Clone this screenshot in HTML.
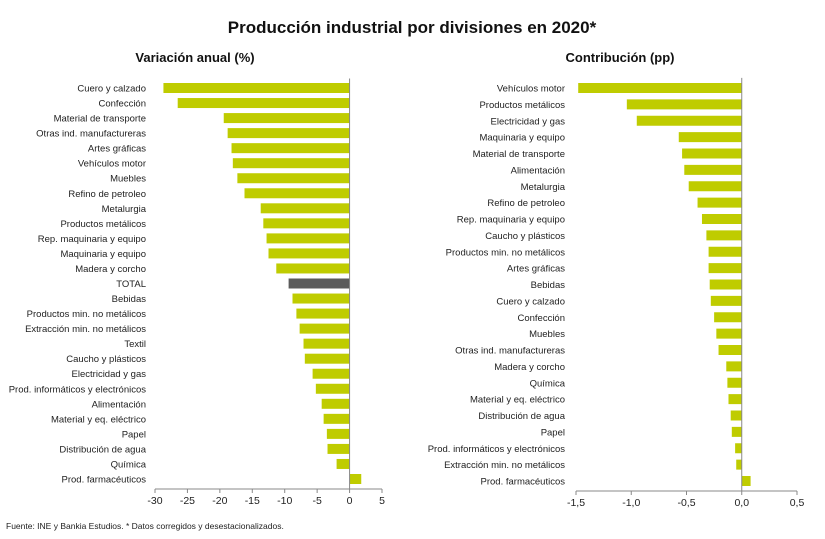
<!DOCTYPE html>
<html><head><meta charset="utf-8"><style>
body{margin:0;background:#fff;}
svg{display:block;font-family:"Liberation Sans",sans-serif;}
</style></head><body>
<svg id="c" width="825" height="539">
<text x="412" y="33" text-anchor="middle" font-size="17" font-weight="bold" fill="#111">Producción industrial por divisiones en 2020*</text>
<text x="195" y="62" text-anchor="middle" font-size="13" font-weight="bold" fill="#111">Variación anual (%)</text>
<text x="620" y="62" text-anchor="middle" font-size="13" font-weight="bold" fill="#111">Contribución (pp)</text>
<text x="6" y="529" font-size="8.5" fill="#222">Fuente: INE y Bankia Estudios. * Datos corregidos y desestacionalizados.</text>
<g id="L"></g><g id="R"></g>
</svg>
<script>
const leftCats=["Cuero y calzado","Confección","Material de transporte","Otras ind. manufactureras","Artes gráficas","Vehículos motor","Muebles","Refino de petroleo","Metalurgia","Productos metálicos","Rep. maquinaria y equipo","Maquinaria y equipo","Madera y corcho","TOTAL","Bebidas","Productos min. no metálicos","Extracción min. no metálicos","Textil","Caucho y plásticos","Electricidad y gas","Prod. informáticos y electrónicos","Alimentación","Material y eq. eléctrico","Papel","Distribución de agua","Química","Prod. farmacéuticos"];
const leftVals=[-28.7,-26.5,-19.4,-18.8,-18.2,-18.0,-17.3,-16.2,-13.7,-13.3,-12.8,-12.5,-11.3,-9.4,-8.8,-8.2,-7.7,-7.1,-6.9,-5.7,-5.2,-4.3,-4.0,-3.5,-3.4,-2.0,1.8];
const leftTicks=[-30,-25,-20,-15,-10,-5,0,5];
const rightCats=["Vehículos motor","Productos metálicos","Electricidad y gas","Maquinaria y equipo","Material de transporte","Alimentación","Metalurgia","Refino de petroleo","Rep. maquinaria y equipo","Caucho y plásticos","Productos min. no metálicos","Artes gráficas","Bebidas","Cuero y calzado","Confección","Muebles","Otras ind. manufactureras","Madera y corcho","Química","Material y eq. eléctrico","Distribución de agua","Papel","Prod. informáticos y electrónicos","Extracción min. no metálicos","Prod. farmacéuticos"];
const rightVals=[-1.48,-1.04,-0.95,-0.57,-0.54,-0.52,-0.48,-0.40,-0.36,-0.32,-0.30,-0.30,-0.29,-0.28,-0.25,-0.23,-0.21,-0.14,-0.13,-0.12,-0.10,-0.09,-0.06,-0.05,0.08];
const rightTicks=[-1.5,-1.0,-0.5,0.0,0.5];
const NS="http://www.w3.org/2000/svg";
function mk(p,t,a){const e=document.createElementNS(NS,t);for(const k in a)e.setAttribute(k,a[k]);p.appendChild(e);return e;}
function panel(g,cats,vals,ticks,x0,x1,v0,v1,y0,y1,labX,axisY,fmt,side){
  const sx=v=>x0+(v-v0)/(v1-v0)*(x1-x0);
  const step=(y1-y0)/(cats.length-1);
  const zx=sx(0);
  cats.forEach((c,i)=>{
    const y=y0+i*step;
    const v=vals[i];
    const r=mk(g,'rect',{x:Math.min(sx(v),zx),y:y-5,width:Math.abs(sx(v)-zx),height:10,fill:c==="TOTAL"?"#5b5b5b":"#bfcc00"});
    
    
    const t=mk(g,'text',{x:labX,y:y+3.5,'text-anchor':'end','font-size':'9.5',fill:'#222'});
    t.textContent=c;
    
    
  });
  const ax=mk(g,'line',{x1:zx,x2:zx,y1:y0-step/2-2,y2:axisY,stroke:'#888','stroke-width':1});
  
  
  const bx=mk(g,'line',{x1:x0,x2:x1,y1:axisY,y2:axisY,stroke:'#888','stroke-width':1});
  
  
  ticks.forEach(tv=>{
    const x=sx(tv);
    const tk=mk(g,'line',{x1:x,x2:x,y1:axisY,y2:axisY+4,stroke:'#888'});
    
    
    const tl=mk(g,'text',{x:x,y:axisY+15,'text-anchor':'middle','font-size':'10.5',fill:'#222'});
    tl.textContent=fmt(tv);
    
    
  });
}
panel(document.getElementById('L'),leftCats,leftVals,leftTicks,155,382,-30,5,88,479,146,489,v=>String(v),'left');
panel(document.getElementById('R'),rightCats,rightVals,rightTicks,576,797,-1.5,0.5,88,481,565,491,v=>v.toFixed(1).replace('.',','),'right');
</script>
</body></html>
